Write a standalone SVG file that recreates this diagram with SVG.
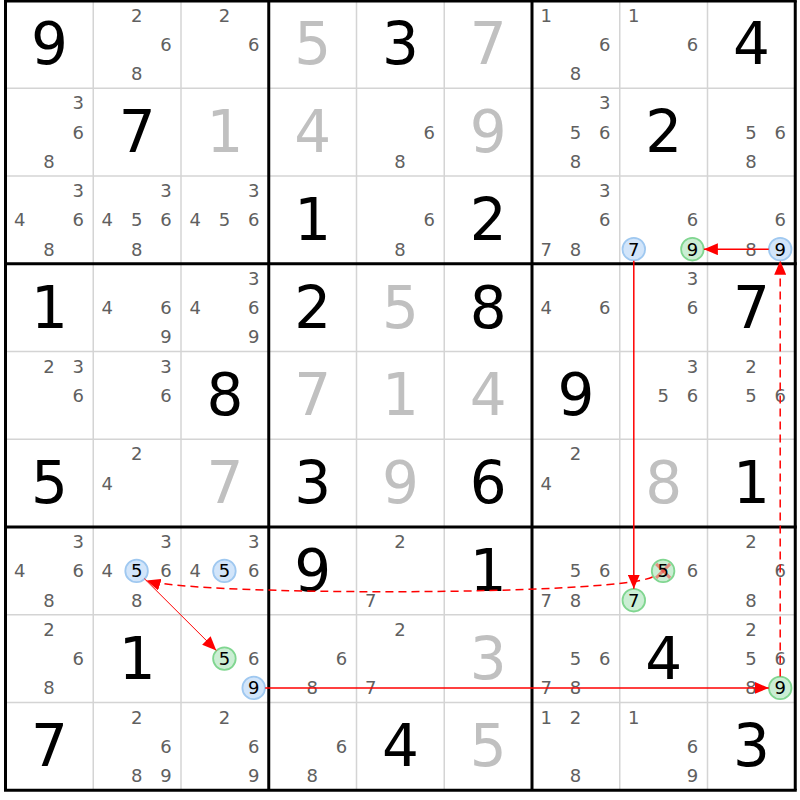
<svg xmlns="http://www.w3.org/2000/svg" width="800" height="800" viewBox="0 0 800 800">
<style>
text{font-family:"DejaVu Sans","Noto Sans",sans-serif;text-anchor:middle}
.g{font-size:58px;fill:#000}
.s{font-size:58px;fill:#c0c0c0}
.p{font-size:18px;fill:#606060}
.k{font-size:18px;fill:#000}
.thin{stroke:#d4d4d4;stroke-width:1.5}
.thick{stroke:#000;stroke-width:3}
.cb{fill:#d2e5fa;stroke:#9fc8f0;stroke-width:1.8}
.cg{fill:#cbeed4;stroke:#80d690;stroke-width:1.8}
.x{stroke:#ff0000;stroke-opacity:0.4;stroke-width:3}
.ln{fill:none;stroke:#ff0000;stroke-width:1.5}
.dash{stroke-dasharray:8,5}
</style>
<defs>
<marker id="ah" markerUnits="userSpaceOnUse" markerWidth="15" markerHeight="12" refX="14" refY="6" orient="auto"><path d="M0,0 L14,6 L0,12 z" fill="#ff0000"/></marker>
</defs>
<rect x="0" y="0" width="800" height="800" fill="#fff"/>
<g id="grid">
<g class="thin">
<line x1="93.25" y1="0.5" x2="93.25" y2="790.25"/><line x1="181" y1="0.5" x2="181" y2="790.25"/>
<line x1="356.5" y1="0.5" x2="356.5" y2="790.25"/><line x1="444.25" y1="0.5" x2="444.25" y2="790.25"/>
<line x1="619.75" y1="0.5" x2="619.75" y2="790.25"/><line x1="707.5" y1="0.5" x2="707.5" y2="790.25"/>
<line x1="5.5" y1="88.25" x2="795.25" y2="88.25"/><line x1="5.5" y1="176" x2="795.25" y2="176"/>
<line x1="5.5" y1="351.5" x2="795.25" y2="351.5"/><line x1="5.5" y1="439.25" x2="795.25" y2="439.25"/>
<line x1="5.5" y1="614.75" x2="795.25" y2="614.75"/><line x1="5.5" y1="702.5" x2="795.25" y2="702.5"/>
</g>
<g class="thick">
<line x1="5.5" y1="0.5" x2="5.5" y2="790.25"/><line x1="268.75" y1="0.5" x2="268.75" y2="790.25"/>
<line x1="532" y1="0.5" x2="532" y2="790.25"/><line x1="795.25" y1="0.5" x2="795.25" y2="790.25"/>
<line x1="4" y1="1" x2="796.75" y2="1"/><line x1="4" y1="263.75" x2="796.75" y2="263.75"/>
<line x1="4" y1="527" x2="796.75" y2="527"/><line x1="4" y1="790.25" x2="796.75" y2="790.25"/>
</g>
</g>
<g id="cells">
<!-- row 0 -->
<g id="r0c0" transform="translate(49.4,44.4)"><text class="g" y="20">9</text></g>
<g id="r0c1" transform="translate(137.1,44.4)"><text class="p" x="-0.5" y="-22.8">2</text><text class="p" x="28.8" y="6.5">6</text><text class="p" x="-0.5" y="35.8">8</text></g>
<g id="r0c2" transform="translate(224.9,44.4)"><text class="p" x="-0.5" y="-22.8">2</text><text class="p" x="28.8" y="6.5">6</text></g>
<g id="r0c3" transform="translate(312.6,44.4)"><text class="s" y="20">5</text></g>
<g id="r0c4" transform="translate(400.4,44.4)"><text class="g" y="20">3</text></g>
<g id="r0c5" transform="translate(488.1,44.4)"><text class="s" y="20">7</text></g>
<g id="r0c6" transform="translate(575.9,44.4)"><text class="p" x="-29.8" y="-22.8">1</text><text class="p" x="28.8" y="6.5">6</text><text class="p" x="-0.5" y="35.8">8</text></g>
<g id="r0c7" transform="translate(663.6,44.4)"><text class="p" x="-29.8" y="-22.8">1</text><text class="p" x="28.8" y="6.5">6</text></g>
<g id="r0c8" transform="translate(751.4,44.4)"><text class="g" y="20">4</text></g>
<!-- row 1 -->
<g id="r1c0" transform="translate(49.4,132.1)"><text class="p" x="28.8" y="-22.8">3</text><text class="p" x="28.8" y="6.5">6</text><text class="p" x="-0.5" y="35.8">8</text></g>
<g id="r1c1" transform="translate(137.1,132.1)"><text class="g" y="20">7</text></g>
<g id="r1c2" transform="translate(224.9,132.1)"><text class="s" y="20">1</text></g>
<g id="r1c3" transform="translate(312.6,132.1)"><text class="s" y="20">4</text></g>
<g id="r1c4" transform="translate(400.4,132.1)"><text class="p" x="28.8" y="6.5">6</text><text class="p" x="-0.5" y="35.8">8</text></g>
<g id="r1c5" transform="translate(488.1,132.1)"><text class="s" y="20">9</text></g>
<g id="r1c6" transform="translate(575.9,132.1)"><text class="p" x="28.8" y="-22.8">3</text><text class="p" x="-0.5" y="6.5">5</text><text class="p" x="28.8" y="6.5">6</text><text class="p" x="-0.5" y="35.8">8</text></g>
<g id="r1c7" transform="translate(663.6,132.1)"><text class="g" y="20">2</text></g>
<g id="r1c8" transform="translate(751.4,132.1)"><text class="p" x="-0.5" y="6.5">5</text><text class="p" x="28.8" y="6.5">6</text><text class="p" x="-0.5" y="35.8">8</text></g>
<!-- row 2 -->
<g id="r2c0" transform="translate(49.4,219.9)"><text class="p" x="28.8" y="-22.8">3</text><text class="p" x="-29.8" y="6.5">4</text><text class="p" x="28.8" y="6.5">6</text><text class="p" x="-0.5" y="35.8">8</text></g>
<g id="r2c1" transform="translate(137.1,219.9)"><text class="p" x="28.8" y="-22.8">3</text><text class="p" x="-29.8" y="6.5">4</text><text class="p" x="-0.5" y="6.5">5</text><text class="p" x="28.8" y="6.5">6</text><text class="p" x="-0.5" y="35.8">8</text></g>
<g id="r2c2" transform="translate(224.9,219.9)"><text class="p" x="28.8" y="-22.8">3</text><text class="p" x="-29.8" y="6.5">4</text><text class="p" x="-0.5" y="6.5">5</text><text class="p" x="28.8" y="6.5">6</text></g>
<g id="r2c3" transform="translate(312.6,219.9)"><text class="g" y="20">1</text></g>
<g id="r2c4" transform="translate(400.4,219.9)"><text class="p" x="28.8" y="6.5">6</text><text class="p" x="-0.5" y="35.8">8</text></g>
<g id="r2c5" transform="translate(488.1,219.9)"><text class="g" y="20">2</text></g>
<g id="r2c6" transform="translate(575.9,219.9)"><text class="p" x="28.8" y="-22.8">3</text><text class="p" x="28.8" y="6.5">6</text><text class="p" x="-29.8" y="35.8">7</text><text class="p" x="-0.5" y="35.8">8</text></g>
<g id="r2c7" transform="translate(663.6,219.9)"><text class="p" x="28.8" y="6.5">6</text><circle class="cb" cx="-29.8" cy="29.3" r="11.3"/><text class="k" x="-29.8" y="35.8">7</text><circle class="cg" cx="28.8" cy="29.3" r="11.3"/><text class="k" x="28.8" y="35.8">9</text></g>
<g id="r2c8" transform="translate(751.4,219.9)"><text class="p" x="28.8" y="6.5">6</text><text class="p" x="-0.5" y="35.8">8</text><circle class="cb" cx="28.8" cy="29.3" r="11.3"/><text class="k" x="28.8" y="35.8">9</text></g>
<!-- row 3 -->
<g id="r3c0" transform="translate(49.4,307.6)"><text class="g" y="20">1</text></g>
<g id="r3c1" transform="translate(137.1,307.6)"><text class="p" x="-29.8" y="6.5">4</text><text class="p" x="28.8" y="6.5">6</text><text class="p" x="28.8" y="35.8">9</text></g>
<g id="r3c2" transform="translate(224.9,307.6)"><text class="p" x="28.8" y="-22.8">3</text><text class="p" x="-29.8" y="6.5">4</text><text class="p" x="28.8" y="6.5">6</text><text class="p" x="28.8" y="35.8">9</text></g>
<g id="r3c3" transform="translate(312.6,307.6)"><text class="g" y="20">2</text></g>
<g id="r3c4" transform="translate(400.4,307.6)"><text class="s" y="20">5</text></g>
<g id="r3c5" transform="translate(488.1,307.6)"><text class="g" y="20">8</text></g>
<g id="r3c6" transform="translate(575.9,307.6)"><text class="p" x="-29.8" y="6.5">4</text><text class="p" x="28.8" y="6.5">6</text></g>
<g id="r3c7" transform="translate(663.6,307.6)"><text class="p" x="28.8" y="-22.8">3</text><text class="p" x="28.8" y="6.5">6</text></g>
<g id="r3c8" transform="translate(751.4,307.6)"><text class="g" y="20">7</text></g>
<!-- row 4 -->
<g id="r4c0" transform="translate(49.4,395.4)"><text class="p" x="-0.5" y="-22.8">2</text><text class="p" x="28.8" y="-22.8">3</text><text class="p" x="28.8" y="6.5">6</text></g>
<g id="r4c1" transform="translate(137.1,395.4)"><text class="p" x="28.8" y="-22.8">3</text><text class="p" x="28.8" y="6.5">6</text></g>
<g id="r4c2" transform="translate(224.9,395.4)"><text class="g" y="20">8</text></g>
<g id="r4c3" transform="translate(312.6,395.4)"><text class="s" y="20">7</text></g>
<g id="r4c4" transform="translate(400.4,395.4)"><text class="s" y="20">1</text></g>
<g id="r4c5" transform="translate(488.1,395.4)"><text class="s" y="20">4</text></g>
<g id="r4c6" transform="translate(575.9,395.4)"><text class="g" y="20">9</text></g>
<g id="r4c7" transform="translate(663.6,395.4)"><text class="p" x="28.8" y="-22.8">3</text><text class="p" x="-0.5" y="6.5">5</text><text class="p" x="28.8" y="6.5">6</text></g>
<g id="r4c8" transform="translate(751.4,395.4)"><text class="p" x="-0.5" y="-22.8">2</text><text class="p" x="-0.5" y="6.5">5</text><text class="p" x="28.8" y="6.5">6</text></g>
<!-- row 5 -->
<g id="r5c0" transform="translate(49.4,483.1)"><text class="g" y="20">5</text></g>
<g id="r5c1" transform="translate(137.1,483.1)"><text class="p" x="-0.5" y="-22.8">2</text><text class="p" x="-29.8" y="6.5">4</text></g>
<g id="r5c2" transform="translate(224.9,483.1)"><text class="s" y="20">7</text></g>
<g id="r5c3" transform="translate(312.6,483.1)"><text class="g" y="20">3</text></g>
<g id="r5c4" transform="translate(400.4,483.1)"><text class="s" y="20">9</text></g>
<g id="r5c5" transform="translate(488.1,483.1)"><text class="g" y="20">6</text></g>
<g id="r5c6" transform="translate(575.9,483.1)"><text class="p" x="-0.5" y="-22.8">2</text><text class="p" x="-29.8" y="6.5">4</text></g>
<g id="r5c7" transform="translate(663.6,483.1)"><text class="s" y="20">8</text></g>
<g id="r5c8" transform="translate(751.4,483.1)"><text class="g" y="20">1</text></g>
<!-- row 6 -->
<g id="r6c0" transform="translate(49.4,570.9)"><text class="p" x="28.8" y="-22.8">3</text><text class="p" x="-29.8" y="6.5">4</text><text class="p" x="28.8" y="6.5">6</text><text class="p" x="-0.5" y="35.8">8</text></g>
<g id="r6c1" transform="translate(137.1,570.9)"><text class="p" x="28.8" y="-22.8">3</text><text class="p" x="-29.8" y="6.5">4</text><circle class="cb" cx="-0.5" cy="0" r="11.3"/><text class="k" x="-0.5" y="6.5">5</text><text class="p" x="28.8" y="6.5">6</text><text class="p" x="-0.5" y="35.8">8</text></g>
<g id="r6c2" transform="translate(224.9,570.9)"><text class="p" x="28.8" y="-22.8">3</text><text class="p" x="-29.8" y="6.5">4</text><circle class="cb" cx="-0.5" cy="0" r="11.3"/><text class="k" x="-0.5" y="6.5">5</text><text class="p" x="28.8" y="6.5">6</text></g>
<g id="r6c3" transform="translate(312.6,570.9)"><text class="g" y="20">9</text></g>
<g id="r6c4" transform="translate(400.4,570.9)"><text class="p" x="-0.5" y="-22.8">2</text><text class="p" x="-29.8" y="35.8">7</text></g>
<g id="r6c5" transform="translate(488.1,570.9)"><text class="g" y="20">1</text></g>
<g id="r6c6" transform="translate(575.9,570.9)"><text class="p" x="-0.5" y="6.5">5</text><text class="p" x="28.8" y="6.5">6</text><text class="p" x="-29.8" y="35.8">7</text><text class="p" x="-0.5" y="35.8">8</text></g>
<g id="r6c7" transform="translate(663.6,570.9)"><circle class="cg" cx="-0.5" cy="0" r="11.3"/><line class="x" x1="-7.5" y1="-7" x2="6.5" y2="7"/><line class="x" x1="-7.5" y1="7" x2="6.5" y2="-7"/><text class="k" x="-0.5" y="6.5">5</text><text class="p" x="28.8" y="6.5">6</text><circle class="cg" cx="-29.8" cy="29.3" r="11.3"/><text class="k" x="-29.8" y="35.8">7</text></g>
<g id="r6c8" transform="translate(751.4,570.9)"><text class="p" x="-0.5" y="-22.8">2</text><text class="p" x="28.8" y="6.5">6</text><text class="p" x="-0.5" y="35.8">8</text></g>
<!-- row 7 -->
<g id="r7c0" transform="translate(49.4,658.6)"><text class="p" x="-0.5" y="-22.8">2</text><text class="p" x="28.8" y="6.5">6</text><text class="p" x="-0.5" y="35.8">8</text></g>
<g id="r7c1" transform="translate(137.1,658.6)"><text class="g" y="20">1</text></g>
<g id="r7c2" transform="translate(224.9,658.6)"><circle class="cg" cx="-0.5" cy="0" r="11.3"/><text class="k" x="-0.5" y="6.5">5</text><text class="p" x="28.8" y="6.5">6</text><circle class="cb" cx="28.8" cy="29.3" r="11.3"/><text class="k" x="28.8" y="35.8">9</text></g>
<g id="r7c3" transform="translate(312.6,658.6)"><text class="p" x="28.8" y="6.5">6</text><text class="p" x="-0.5" y="35.8">8</text></g>
<g id="r7c4" transform="translate(400.4,658.6)"><text class="p" x="-0.5" y="-22.8">2</text><text class="p" x="-29.8" y="35.8">7</text></g>
<g id="r7c5" transform="translate(488.1,658.6)"><text class="s" y="20">3</text></g>
<g id="r7c6" transform="translate(575.9,658.6)"><text class="p" x="-0.5" y="6.5">5</text><text class="p" x="28.8" y="6.5">6</text><text class="p" x="-29.8" y="35.8">7</text><text class="p" x="-0.5" y="35.8">8</text></g>
<g id="r7c7" transform="translate(663.6,658.6)"><text class="g" y="20">4</text></g>
<g id="r7c8" transform="translate(751.4,658.6)"><text class="p" x="-0.5" y="-22.8">2</text><text class="p" x="-0.5" y="6.5">5</text><text class="p" x="28.8" y="6.5">6</text><text class="p" x="-0.5" y="35.8">8</text><circle class="cg" cx="28.8" cy="29.3" r="11.3"/><text class="k" x="28.8" y="35.8">9</text></g>
<!-- row 8 -->
<g id="r8c0" transform="translate(49.4,746.4)"><text class="g" y="20">7</text></g>
<g id="r8c1" transform="translate(137.1,746.4)"><text class="p" x="-0.5" y="-22.8">2</text><text class="p" x="28.8" y="6.5">6</text><text class="p" x="-0.5" y="35.8">8</text><text class="p" x="28.8" y="35.8">9</text></g>
<g id="r8c2" transform="translate(224.9,746.4)"><text class="p" x="-0.5" y="-22.8">2</text><text class="p" x="28.8" y="6.5">6</text><text class="p" x="28.8" y="35.8">9</text></g>
<g id="r8c3" transform="translate(312.6,746.4)"><text class="p" x="28.8" y="6.5">6</text><text class="p" x="-0.5" y="35.8">8</text></g>
<g id="r8c4" transform="translate(400.4,746.4)"><text class="g" y="20">4</text></g>
<g id="r8c5" transform="translate(488.1,746.4)"><text class="s" y="20">5</text></g>
<g id="r8c6" transform="translate(575.9,746.4)"><text class="p" x="-29.8" y="-22.8">1</text><text class="p" x="-0.5" y="-22.8">2</text><text class="p" x="-0.5" y="35.8">8</text></g>
<g id="r8c7" transform="translate(663.6,746.4)"><text class="p" x="-29.8" y="-22.8">1</text><text class="p" x="28.8" y="6.5">6</text><text class="p" x="28.8" y="35.8">9</text></g>
<g id="r8c8" transform="translate(751.4,746.4)"><text class="g" y="20">3</text></g>
</g>
<g id="connectors">
<path class="ln" d="M768.7,249.2 L703.9,249.2" marker-end="url(#ah)"/>
<path class="ln" d="M633.8,260.7 L633.8,588.7" marker-end="url(#ah)"/>
<path class="ln dash" d="M652.5,577 C612,596 196,596 146.5,580.5" marker-end="url(#ah)"/>
<path class="ln" style="stroke-width:1" d="M144.3,578.6 L216.3,650.4" marker-end="url(#ah)"/>
<path class="ln" d="M265.2,687.9 L768.7,687.9" marker-end="url(#ah)"/>
<path class="ln dash" d="M780.2,676.4 L780.2,260.7" marker-end="url(#ah)"/>
</g>
</svg>
